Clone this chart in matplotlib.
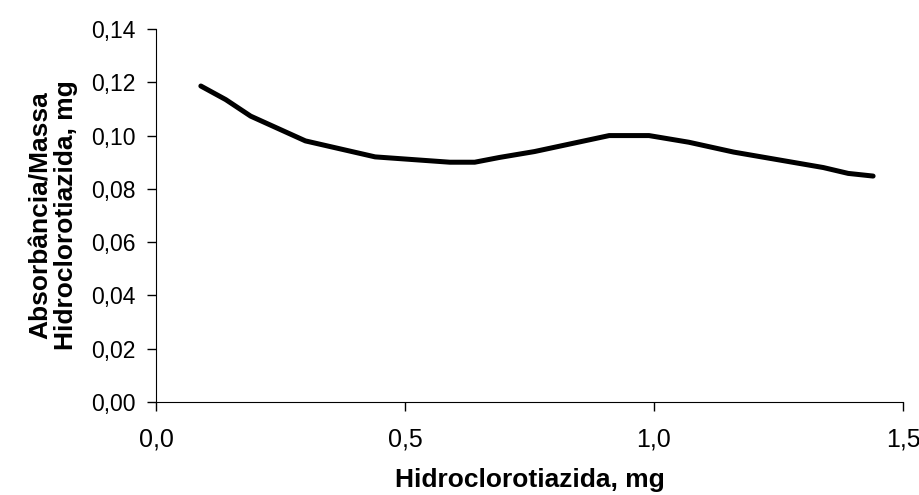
import matplotlib
matplotlib.use("Agg")
from matplotlib import pyplot as plt
from matplotlib.ticker import FuncFormatter

# massa de hidroclorotiazida (mg) e absorbância/massa
massa = [0.09, 0.14, 0.19, 0.30, 0.44, 0.59, 0.64, 0.69, 0.76, 0.86,
         0.91, 0.99, 1.07, 1.16, 1.34, 1.39, 1.44]
abs_massa = [0.1186, 0.1135, 0.1073, 0.0980, 0.0920, 0.0900, 0.0900, 0.0918,
             0.0940, 0.0980, 0.1000, 0.1000, 0.0975, 0.0938, 0.0880, 0.0858,
             0.0848]

xticks = [0, 0.5, 1.0, 1.5]
yticks = [0, 0.02, 0.04, 0.06, 0.08, 0.10, 0.12, 0.14]

plt.rcParams['font.family'] = ['Liberation Sans', 'DejaVu Sans']

fig = plt.figure(figsize=(9.2, 4.95), dpi=100)
ax = fig.add_axes([0.1696, 0.1879, 0.8119, 0.7535])

ax.plot(massa, abs_massa, color='black', linewidth=3.6, solid_capstyle='round',
        solid_joinstyle='round')

ax.set_xlim(0, 1.5)
ax.set_ylim(0, 0.14)
ax.set_xticks(xticks)
ax.set_yticks(yticks)
ax.xaxis.set_major_formatter(FuncFormatter(lambda v, p: f"{v:.1f}".replace('.', ',')))
ax.yaxis.set_major_formatter(FuncFormatter(lambda v, p: f"{v:.2f}".replace('.', ',')))

ax.spines['top'].set_visible(False)
ax.spines['right'].set_visible(False)
ax.tick_params(direction='out', length=6.5, width=1)
ax.tick_params(axis='y', labelsize=16.5, pad=8)
ax.tick_params(axis='x', labelsize=18, pad=12)

ax.set_xlabel('Hidroclorotiazida, mg', fontsize=19, fontweight='bold', labelpad=12)
ax.set_ylabel('Absorbância/Massa\nHidroclorotiazida, mg', fontsize=19,
              fontweight='bold', labelpad=10, linespacing=1.05)

fig.savefig('out.png', dpi=100)
